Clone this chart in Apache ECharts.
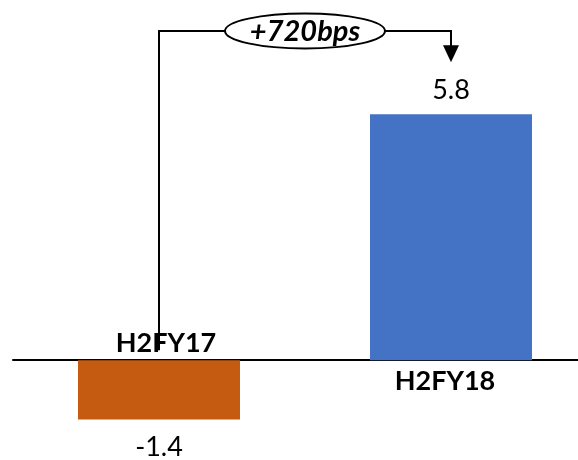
<!DOCTYPE html>
<html>
<head>
<meta charset="utf-8">
<script src="https://cdn.jsdelivr.net/npm/echarts@6/dist/echarts.min.js"></script>
<style>
  html, body { margin: 0; padding: 0; background: #fff; }
  #chart { width: 578px; height: 460px; }
</style>
</head>
<body>
<div id="chart"></div>
<script>
const categories = ['H2FY17', 'H2FY18'];
const values = [-1.4, 5.8];
const barColors = ['#C55A11', '#4472C4'];
const changeLabel = '+720bps';

const FONT = 'Lato, "Liberation Sans", sans-serif';
const chart = echarts.init(document.getElementById('chart'), null, { renderer: 'canvas' });

const barData = values.map((v, i) => ({
  value: v,
  itemStyle: { color: barColors[i] },
  label: { position: v < 0 ? 'bottom' : 'top', distance: v < 0 ? 14 : 10 }
}));

const catLabelData = values.map((v, i) => ({
  value: v,
  label: {
    formatter: categories[i],
    position: v < 0 ? 'top' : 'bottom',
    distance: v < 0 ? 3 : 8,
    offset: [v < 0 ? 7 : -6, 0]
  }
}));

const option = {
  animation: false,
  backgroundColor: '#ffffff',
  grid: { left: 13, top: 21, width: 584, height: 424, containLabel: false, outerBoundsMode: 'none' },
  xAxis: {
    type: 'category',
    data: categories,
    axisLine: { onZero: true, lineStyle: { color: '#000', width: 2 } },
    axisTick: { show: false },
    axisLabel: { show: false },
    splitLine: { show: false }
  },
  yAxis: {
    type: 'value',
    min: -2, max: 8, interval: 1,
    show: false
  },
  series: [
    {
      type: 'bar',
      barWidth: 162,
      data: barData,
      label: {
        show: true,
        color: '#000',
        fontSize: 27,
        fontFamily: FONT,
        formatter: p => p.value.toFixed(1)
      },
      z: 2
    },
    {
      type: 'bar',
      barWidth: 162,
      barGap: '-100%',
      data: catLabelData,
      itemStyle: { color: 'rgba(0,0,0,0)' },
      silent: true,
      label: {
        show: true,
        color: '#000',
        fontSize: 27,
        fontWeight: 'bold',
        fontFamily: FONT
      },
      z: 3
    }
  ]
};
chart.setOption(option);

// Annotation bracket derived from the chart's own scales
const x0 = chart.convertToPixel({ xAxisIndex: 0 }, categories[0]);
const x1 = chart.convertToPixel({ xAxisIndex: 0 }, categories[1]);
const yZero = chart.convertToPixel({ yAxisIndex: 0 }, 0);
const yBar1 = chart.convertToPixel({ yAxisIndex: 0 }, values[1]);
const bracketY = 31;
const arrowTip = yBar1 - 52;
const midX = (x0 + x1) / 2;

chart.setOption({
  graphic: [
    {
      type: 'polyline',
      z: 10,
      shape: { points: [[x0, yZero - 10], [x0, bracketY], [x1, bracketY], [x1, arrowTip - 16]] },
      style: { stroke: '#000', lineWidth: 2, fill: null }
    },
    {
      type: 'polygon',
      z: 10,
      shape: { points: [[x1 - 8, arrowTip - 17], [x1 + 8, arrowTip - 17], [x1, arrowTip]] },
      style: { fill: '#000', stroke: null }
    },
    {
      type: 'ellipse',
      z: 11,
      shape: { cx: midX, cy: bracketY, rx: 80, ry: 17.5 },
      style: { fill: '#fff', stroke: '#000', lineWidth: 2 }
    },
    {
      type: 'text',
      z: 12,
      x: midX, y: bracketY + 1,
      style: {
        text: changeLabel,
        fill: '#000',
        font: 'italic bold 29px ' + FONT,
        align: 'center',
        verticalAlign: 'middle'
      }
    }
  ]
});
</script>
</body>
</html>
